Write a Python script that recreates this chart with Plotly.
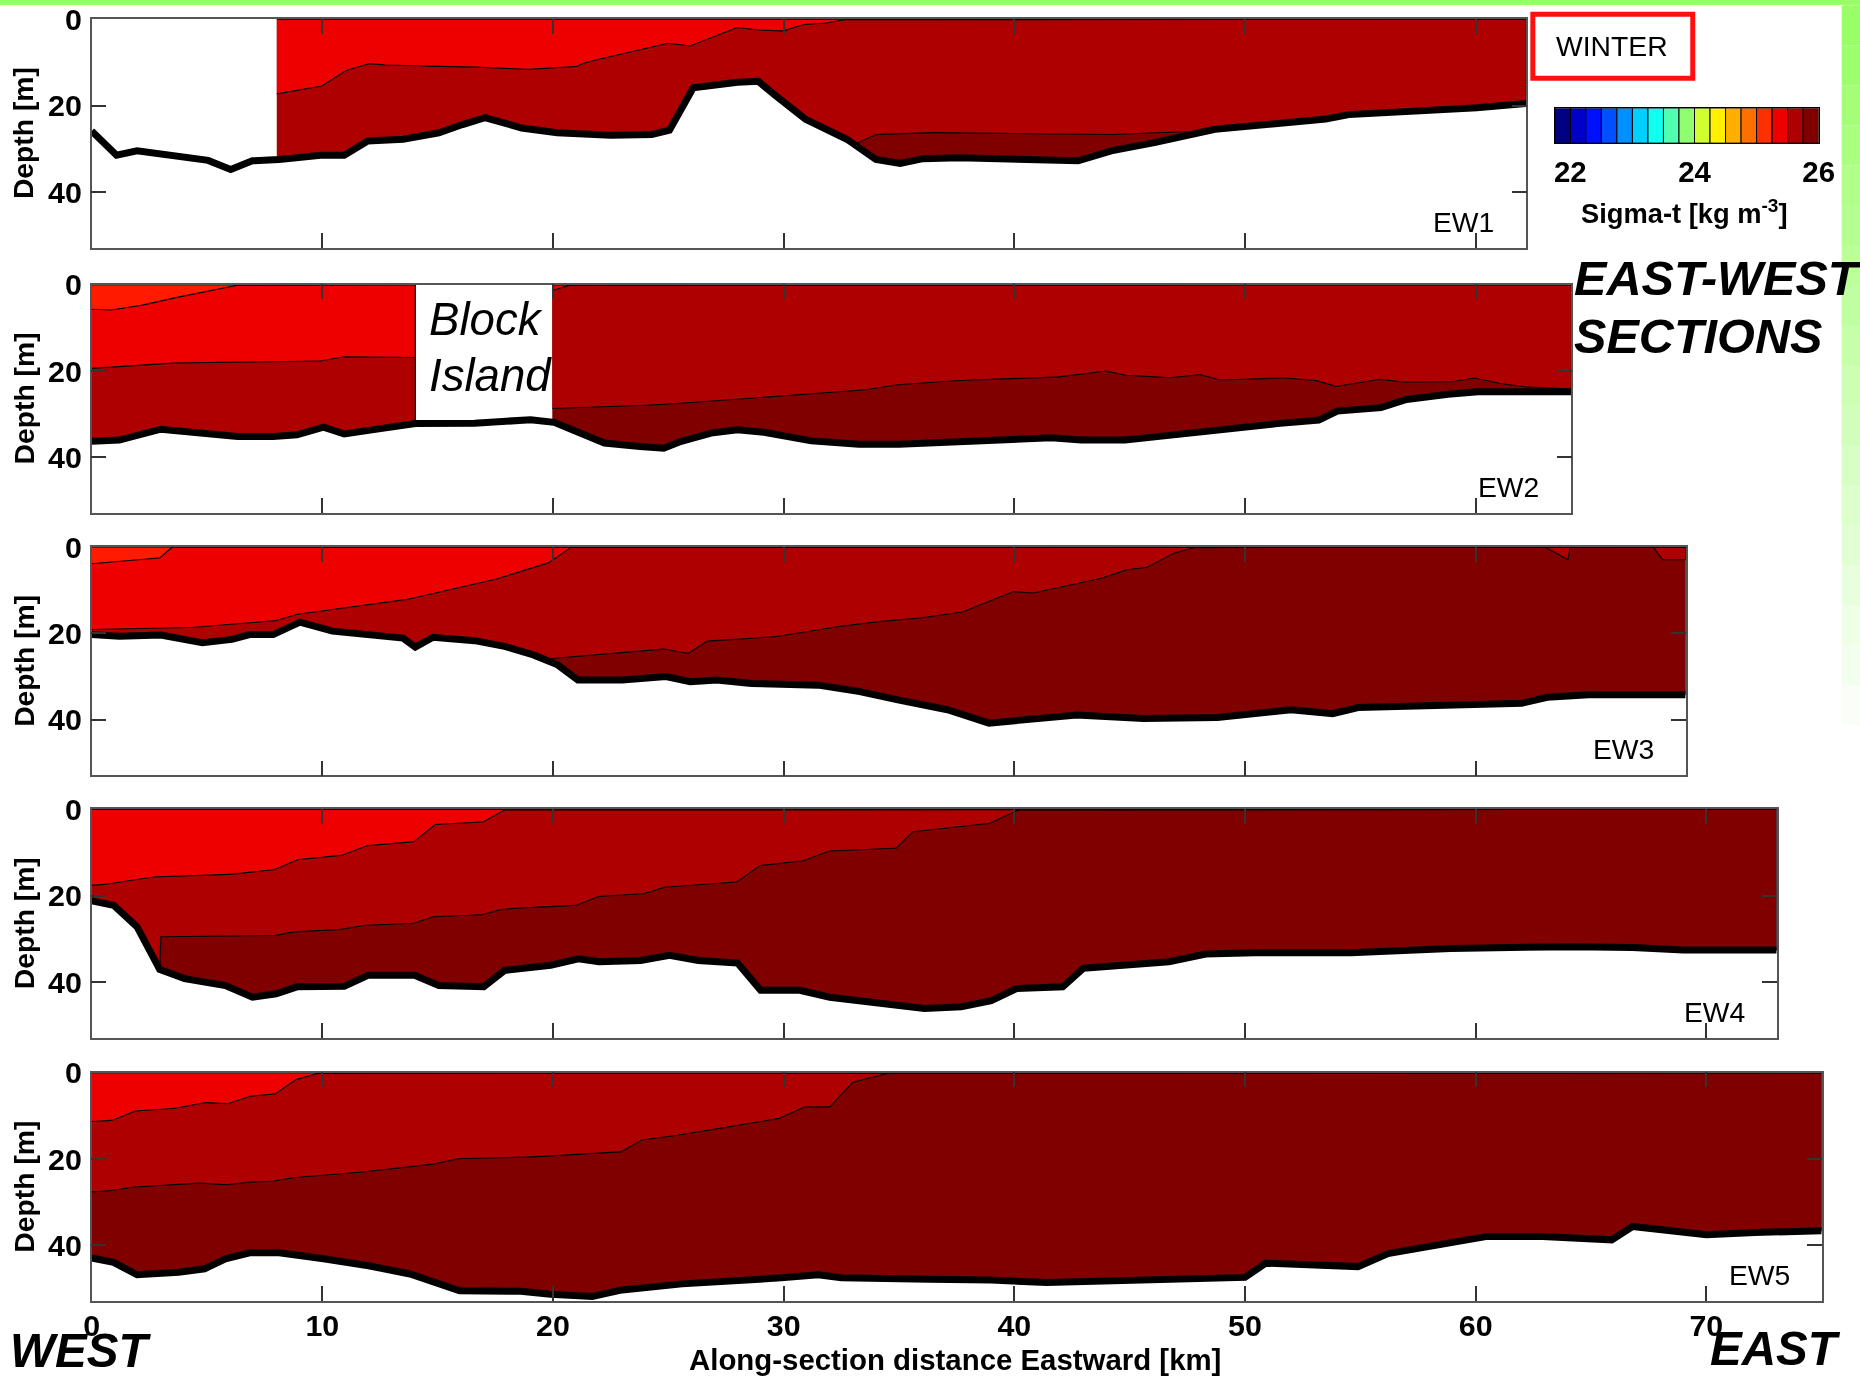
import numpy as np
import plotly.graph_objects as go

W, H = 1860, 1384
FONT = "Liberation Sans, Arial, sans-serif"

# ---------------- DATA ----------------
X_TICKS = [0, 10, 20, 30, 40, 50, 60, 70]
Y_TICKS = [0, 20, 40]
PANEL_NAMES = ["EW1", "EW2", "EW3", "EW4", "EW5"]
SECTION_LENGTH_KM = [62.2, 64.15, 69.1, 73.05, 75.0]
DATA_RANGES = [[(8.03, 62.2)], [(0, 14.03), (19.97, 64.15)], [(0, 69.1)], [(0, 73.05)], [(0, 75.0)]]

# bathymetry (km, depth m)
EW1_BOTTOM = [(0, 25.9), (1.08, 31.5), (1.97, 30.5), (3.0, 31.3), (5.05, 32.7), (6.03, 34.8), (6.97, 32.8),
              (8.13, 32.5), (9.92, 31.5), (10.95, 31.5), (11.97, 28.2), (13.5, 27.8), (15.05, 26.3), (16.08, 24.4),
              (17.05, 22.8), (18.64, 25.2), (20.18, 26.3), (22.5, 26.9), (24.28, 26.7), (25.05, 25.7), (26.08, 15.9),
              (28.0, 14.6), (28.9, 14.4), (29.67, 17.8), (30.95, 23.2), (32.74, 27.8), (34.0, 32.5), (35.05, 33.4),
              (36.04, 32.3), (37.6, 32.1), (40.26, 32.3), (42.77, 32.8), (44.2, 30.5), (46.07, 28.6), (48.7, 25.5),
              (50.8, 24.6), (53.5, 23.1), (54.5, 22.1), (57.4, 21.3), (60.05, 20.5), (62.2, 19.5)]
EW2_BOTTOM = [(0, 36.3), (1.2, 36.0), (3.0, 33.5), (4.54, 34.2), (6.33, 35.2), (7.87, 35.2), (8.9, 34.8), (10.05, 33.0),
              (10.95, 34.6), (12.23, 33.6), (14.03, 32.2), (16.6, 32.1), (17.87, 31.8), (19.03, 31.3), (20.05, 31.9),
              (20.95, 34.0), (22.23, 36.7), (23.77, 37.5), (24.8, 37.9), (25.56, 36.3), (26.85, 34.4), (28.0, 33.6),
              (29.15, 34.2), (31.2, 36.2), (33.26, 37.0), (35.0, 37.0), (36.3, 36.7), (38.94, 35.9), (41.6, 35.5),
              (42.9, 36.0), (44.8, 36.0), (46.4, 35.1), (48.2, 34.0), (49.8, 33.2), (51.4, 32.2), (53.2, 31.4),
              (54.0, 29.3), (55.9, 28.5), (57.0, 26.6), (58.8, 25.4), (60.1, 24.8), (61.5, 24.8), (64.15, 24.8)]
EW3_BOTTOM = [(0, 20.3), (1.2, 20.7), (3.0, 20.4), (4.8, 22.2), (6.08, 21.4), (6.85, 20.3), (7.87, 20.3), (9.03, 17.4),
              (10.44, 19.5), (12.5, 20.7), (13.5, 21.1), (14.03, 23.2), (14.8, 20.9), (16.6, 21.7), (17.9, 23.0),
              (19.15, 25.0), (20.2, 27.3), (21.08, 30.8), (23.0, 30.8), (24.9, 30.0), (25.95, 31.2), (27.1, 30.8),
              (28.6, 31.6), (31.5, 32.0), (33.3, 33.5), (34.95, 35.4), (36.3, 36.6), (37.1, 37.7), (38.9, 40.8),
              (41.1, 39.7), (42.7, 38.9), (45.6, 39.7), (48.8, 39.5), (52.0, 37.7), (53.8, 38.6), (54.9, 37.2),
              (57.5, 36.8), (62.0, 36.2), (63.1, 34.8), (64.9, 34.2), (69.1, 34.2)]
EW4_BOTTOM = [(0, 21.2), (0.95, 22.2), (1.97, 27.2), (2.95, 37.1), (4.03, 39.2), (5.8, 40.8), (6.97, 43.5), (8.0, 42.7),
              (8.9, 41.1), (10.95, 41.0), (12.0, 38.4), (14.0, 38.4), (15.05, 40.8), (17.0, 41.1), (17.9, 37.3),
              (19.9, 36.1), (21.1, 34.6), (22.0, 35.3), (23.8, 35.0), (25.05, 33.8), (26.3, 35.0), (28.0, 35.6),
              (29.0, 41.9), (30.7, 41.9), (32.0, 43.5), (34.0, 44.9), (36.1, 46.1), (37.7, 45.7), (39.0, 44.3),
              (40.1, 41.5), (42.1, 41.1), (43.0, 36.8), (46.7, 35.3), (48.3, 33.5), (50.4, 33.2), (54.6, 33.2),
              (58.9, 32.2), (64.2, 31.8), (66.8, 32.0), (69.0, 32.6), (73.05, 32.6)]
EW5_BOTTOM = [(0, 42.9), (0.95, 43.9), (1.97, 46.8), (3.77, 46.2), (4.9, 45.4), (5.8, 43.1), (6.85, 41.7), (8.13, 41.7),
              (10.05, 43.1), (12.0, 44.7), (13.8, 46.6), (15.05, 48.9), (15.95, 50.5), (18.6, 50.6), (19.9, 51.3),
              (21.7, 51.8), (23.0, 50.3), (25.6, 48.9), (28.1, 48.3), (29.9, 47.5), (31.5, 46.8), (32.5, 47.5),
              (36.3, 47.8), (39.0, 48.0), (41.4, 48.6), (44.3, 48.2), (50.0, 47.4), (50.9, 44.1), (54.9, 44.9),
              (56.2, 41.9), (60.5, 37.9), (62.9, 37.9), (65.9, 38.7), (66.8, 35.6), (69.5, 37.0), (70.0, 37.5),
              (72.1, 37.0), (75.0, 36.6)]

# isopycnal depths (km, depth m)
EW1_S255 = [(8.03, 17.3), (10.05, 15.4), (11.08, 11.7), (12.1, 10.2), (13.0, 10.8), (15.56, 10.9), (17.87, 11.3),
            (19.15, 11.7), (21.08, 10.9), (21.46, 9.9), (23.26, 7.8), (25.05, 5.5), (25.95, 6.2), (27.1, 3.8),
            (28.0, 1.9), (29.15, 2.7), (30.05, 2.7), (30.95, 1.1), (31.97, 0.9), (32.74, 0)]
EW1_S2575 = [(33.25, 28.5), (34.0, 26.7), (36.3, 26.3), (37.6, 26.2), (42.4, 26.7), (45.0, 26.7), (46.9, 26.2),
             (48.2, 25.9)]
EW2_S2525 = [(0, 5.7), (0.95, 5.9), (2.5, 4.5), (4.3, 2.2), (6.46, 0)]
EW2_S255 = [(0, 19.4), (0.56, 19.1), (3.77, 18.1), (10.05, 17.7), (10.95, 16.7), (14.03, 16.9), (19.97, 1.4),
            (20.8, 0)]
EW2_S2575 = [(19.97, 28.7), (24.8, 27.8), (29.4, 25.9), (33.77, 24.3), (35.0, 23.1), (36.3, 22.8), (38.4, 21.9),
             (42.1, 21.4), (43.97, 20.0), (45.0, 21.2), (46.9, 21.6), (48.1, 20.8), (49.0, 22.2), (51.9, 21.6),
             (53.2, 22.3), (54.0, 23.7), (55.9, 21.9), (57.0, 22.7), (59.1, 22.5), (60.0, 21.6), (61.2, 23.1),
             (62.5, 23.9), (64.15, 24.2)]
EW3_S2525 = [(0, 3.9), (3.0, 2.5), (3.5, 0)]
EW3_S255 = [(0, 19.1), (1.2, 19.0), (4.8, 18.6), (8.1, 17.0), (9.0, 15.4), (14.0, 11.9), (17.9, 7.0), (19.9, 3.5),
            (20.8, 0)]
EW3_S2575 = [(19.5, 26.2), (20.0, 25.7), (24.9, 23.6), (25.9, 24.7), (26.7, 21.7), (29.9, 20.7), (33.0, 17.9),
             (35.0, 16.8), (36.3, 16.3), (37.9, 14.9), (38.94, 12.4), (40.0, 10.3), (40.9, 10.7), (43.97, 7.0),
             (45.0, 5.05), (45.8, 4.7), (47.0, 1.2), (47.9, 0), (63.05, 0), (64.0, 2.95), (64.1, 0), (67.7, 0),
             (68.1, 2.95), (69.1, 2.95)]
EW4_S255 = [(0, 17.6), (0.95, 17.2), (2.74, 15.6), (6.33, 15.0), (8.0, 13.9), (9.0, 11.5), (10.95, 10.6), (12.0, 8.3),
            (14.0, 7.5), (14.9, 3.5), (17.0, 2.9), (17.9, 0.15), (18.1, 0)]
EW4_S2575 = [(3.0, 29.5), (8.1, 29.2), (8.9, 28.2), (10.95, 27.8), (12.0, 26.7), (14.0, 26.4), (14.9, 24.7),
             (17.0, 24.4), (17.9, 23.0), (19.9, 22.6), (21.1, 22.2), (22.0, 20.1), (24.0, 19.5), (24.9, 17.9),
             (28.0, 16.8), (29.0, 12.9), (30.9, 11.9), (32.0, 9.6), (34.9, 9.0), (35.6, 5.2), (36.1, 4.8),
             (39.0, 3.2), (40.1, 0.3), (40.3, 0)]
EW5_S255 = [(0, 11.3), (0.95, 11.0), (1.97, 8.7), (3.77, 8.2), (5.05, 6.8), (5.95, 7.2), (6.97, 5.3), (8.0, 4.9),
            (8.9, 1.4), (9.8, 0.15), (9.92, 0)]
EW5_S2575 = [(0, 27.6), (0.95, 27.3), (1.97, 26.3), (4.9, 25.5), (5.95, 26.0), (6.97, 25.2), (8.0, 25.1), (8.9, 24.1),
             (12.0, 22.9), (15.05, 21.0), (15.95, 19.8), (19.9, 19.4), (23.0, 18.3), (23.9, 15.4), (25.6, 14.4),
             (28.1, 12.0), (29.9, 10.5), (30.95, 7.8), (32.0, 7.9), (33.0, 2.2), (34.5, 0.15), (34.7, 0)]

# sigma-t colour classes
CB_LOWER = [21.75, 22.0, 22.25, 22.5, 22.75, 23.0, 23.25, 23.5, 23.75, 24.0, 24.25, 24.5, 24.75, 25.0, 25.25, 25.5, 25.75]
CB_COLORS = ['#000080', '#0000C8', '#0010FF', '#0050FF', '#0090FF', '#00D0FF', '#10FFEF', '#50FFAF', '#90FF6F',
             '#D0FF2F', '#FFEF00', '#FFAF00', '#FF6F00', '#FF3000', '#EE0000', '#AE0000', '#800000']
CB_TICKS = [22, 24, 26]
C_2525, C_255, C_2575, C_26 = '#FF1A00', '#EE0000', '#AE0000', '#800000'

# each: bottom, list of (isoline, left-end, right-end, colour above) densest first
PANEL_LINES = [
    (EW1_BOTTOM, [(EW1_S2575, 'below', 'below', C_2575), (EW1_S255, 'below', 'surface', C_255)]),
    (EW2_BOTTOM, [(EW2_S2575, 'below', 'below', C_2575), (EW2_S255, 'below', 'surface', C_255),
                  (EW2_S2525, 'below', 'surface', C_2525)]),
    (EW3_BOTTOM, [(EW3_S2575, 'below', 'surface', C_2575), (EW3_S255, 'below', 'surface', C_255),
                  (EW3_S2525, 'below', 'surface', C_2525)]),
    (EW4_BOTTOM, [(EW4_S2575, 'below', 'surface', C_2575), (EW4_S255, 'below', 'surface', C_255)]),
    (EW5_BOTTOM, [(EW5_S2575, 'below', 'surface', C_2575), (EW5_S255, 'below', 'surface', C_255)]),
]

# ---------------- LAYOUT GEOMETRY (target pixels) ----------------
X0_PX, PX_PER_KM = 91.0, 23.08
PANEL_TOP_PX = [19, 284.5, 547, 809.5, 1073]
PANEL_H_PX = 228.5
Y_MAX = 52.9

# compensation for the way the page is placed when it is photographed
SX, OX = 1.0125, -7.4
SY, OY = 1.012, -17.0
FS = 1.0125


def px(x):
    return (SX * x + OX) / W


def py(y):
    return 1 - (SY * y + OY) / H


def fsz(s):
    return round(s * FS, 1)


fig = go.Figure()
layout = dict(width=W, height=H, margin=dict(l=0, r=0, t=0, b=0), autosize=False,
              paper_bgcolor='rgba(0,0,0,0)', plot_bgcolor='white', showlegend=False)
annotations = []
shapes = []


def ann(text, x, y, size, xanchor='center', yanchor='middle', angle=0):
    annotations.append(dict(text=text, x=px(x), y=py(y), xref='paper', yref='paper', showarrow=False,
                            xanchor=xanchor, yanchor=yanchor, textangle=angle,
                            font=dict(family=FONT, size=fsz(size), color='black')))


def interp_line(xg, pts, left, right):
    xs = [p[0] for p in pts]
    ds = [p[1] for p in pts]
    lv = 0.0 if left == 'surface' else 999.0
    rv = 0.0 if right == 'surface' else 999.0
    return np.interp(xg, xs, ds, left=lv, right=rv)


for i in range(5):
    n = i + 1
    xa, ya = ('x' if n == 1 else f'x{n}'), ('y' if n == 1 else f'y{n}')
    xmax = SECTION_LENGTH_KM[i]
    top = PANEL_TOP_PX[i]
    right_px = X0_PX + xmax * PX_PER_KM
    bottom, lines = PANEL_LINES[i]
    bx = [p[0] for p in bottom]
    bd = [p[1] for p in bottom]

    for (a, b) in DATA_RANGES[i]:
        pts = set(np.round(np.linspace(a, b, int((b - a) / 0.05) + 1), 4).tolist())
        for p in bottom:
            if a <= p[0] <= b:
                pts.add(p[0])
        for ln in lines:
            for p in ln[0]:
                if a <= p[0] <= b:
                    pts.add(p[0])
        xg = np.array(sorted(pts))
        bot = np.interp(xg, bx, bd)
        polys = [(bot, C_26)]
        for ln, le, re, col in lines:
            iso = interp_line(xg, ln, le, re)
            polys.append((np.minimum(iso, bot), col))
        for lower, col in polys:
            fig.add_trace(go.Scatter(
                x=np.concatenate([xg, xg[::-1]]), y=np.concatenate([np.zeros_like(xg), lower[::-1]]),
                fill='toself', fillcolor=col, mode='lines', line=dict(color='black', width=1.1),
                hoverinfo='skip', xaxis=xa, yaxis=ya))

    fig.add_trace(go.Scatter(x=bx, y=bd, mode='lines', line=dict(color='black', width=7),
                             hoverinfo='skip', xaxis=xa, yaxis=ya))

    common = dict(ticks='inside', ticklen=15, tickwidth=1.5, tickcolor='#333', showline=True, linecolor='#555',
                  linewidth=1.5, mirror='ticks', showgrid=False, zeroline=False,
                  tickfont=dict(family=FONT, size=fsz(30), color='black', weight='bold'))
    layout[('xaxis' if n == 1 else f'xaxis{n}')] = dict(
        domain=[px(X0_PX), px(right_px)], range=[0, xmax], tickvals=X_TICKS, anchor=ya,
        showticklabels=(n == 5), ticklabelstandoff=-3, **common)
    layout[('yaxis' if n == 1 else f'yaxis{n}')] = dict(
        domain=[py(top + PANEL_H_PX), py(top)], range=[Y_MAX, 0], tickvals=Y_TICKS, anchor=xa,
        ticklabelstandoff=2, **common)

    ann('<b>Depth [m]</b>', 23, top + PANEL_H_PX / 2, 28, angle=-90)
    ann(PANEL_NAMES[i], right_px - 30, top + PANEL_H_PX - 26, 28, xanchor='right')

# Block Island label
ann('<i>Block</i>', 427, 319, 45, xanchor='left')
ann('<i>Island</i>', 427, 375, 45, xanchor='left')

# ---------------- colour bar ----------------
fig.add_trace(go.Bar(x=[v + 0.125 for v in CB_LOWER], y=[1] * len(CB_LOWER), width=0.25,
                     marker=dict(color=CB_COLORS, line=dict(color='black', width=1)),
                     hoverinfo='skip', xaxis='x6', yaxis='y6'))
layout['xaxis6'] = dict(domain=[px(1555), px(1819)], range=[21.75, 26], tickvals=CB_TICKS, anchor='y6',
                        ticks='inside', ticklen=35, tickwidth=1, tickcolor='black', showline=True, linecolor='black',
                        linewidth=1, mirror=True, showgrid=False, zeroline=False, ticklabelstandoff=3,
                        tickfont=dict(family=FONT, size=fsz(29), color='black', weight='bold'))
layout['yaxis6'] = dict(domain=[py(143), py(108)], range=[0, 1], anchor='x6', showticklabels=False, ticks='',
                        showline=True, linecolor='black', linewidth=1, mirror=True, showgrid=False, zeroline=False)
ann('<b>Sigma-t [kg m<sup>-3</sup>]</b>', 1685, 212, 27)

# ---------------- texts ----------------
ann('WINTER', 1612, 46, 28)
ann('<b><i>EAST-WEST</i></b>', 1572, 278, 48, xanchor='left')
ann('<b><i>SECTIONS</i></b>', 1572, 336, 48, xanchor='left')
ann('<b><i>WEST</i></b>', 7, 1351, 47, xanchor='left')
ann('<b><i>EAST</i></b>', 1843, 1349, 47, xanchor='right')
ann('<b>Along-section distance Eastward [km]</b>', 955, 1360, 29)

# ---------------- decorations ----------------
n_seg = 18
for k in range(n_seg):
    t = k / n_seg
    r = int(0x99 + (255 - 0x99) * t)
    b = int(0x66 + (255 - 0x66) * t)
    shapes.append(dict(type='rect', xref='paper', yref='paper', x0=px(1842), x1=px(1880),
                       y0=py(5 + (k + 1) * 40), y1=py(5 + k * 40),
                       fillcolor=f'rgb({r},255,{b})', line=dict(width=0), layer='below'))
shapes.append(dict(type='rect', xref='paper', yref='paper', x0=px(1533), x1=px(1693), y0=py(78), y1=py(14),
                   fillcolor='rgba(0,0,0,0)', line=dict(color='#FF1010', width=5)))

layout['annotations'] = annotations
layout['shapes'] = shapes
fig.update_layout(**layout)

PAGE_BG = ("linear-gradient(#99FF66,#99FF66) 0px 0px / 2000px 5px no-repeat, "
           "linear-gradient(#99FF66,#FFFFFF) 1864px 0px / 40px 740px no-repeat, "
           "linear-gradient(#E8E8E8,#E8E8E8) 1865px 750px / 14px 36px no-repeat, "
           "linear-gradient(#D0D0D0,#D0D0D0) 1865px 1100px / 14px 54px no-repeat, #FFFFFF")
POST = ("document.documentElement.style.margin='0';document.body.style.margin='0';"
        "document.body.style.padding='0';document.documentElement.style.overflow='hidden';"
        "document.documentElement.style.background='" + PAGE_BG + "';"
        "var d=document.getElementById('{plot_id}');d.style.position='fixed';d.style.left='0px';"
        "d.style.top='0px';")
fig.write_html("out.html", config={'displayModeBar': False}, post_script=POST)
